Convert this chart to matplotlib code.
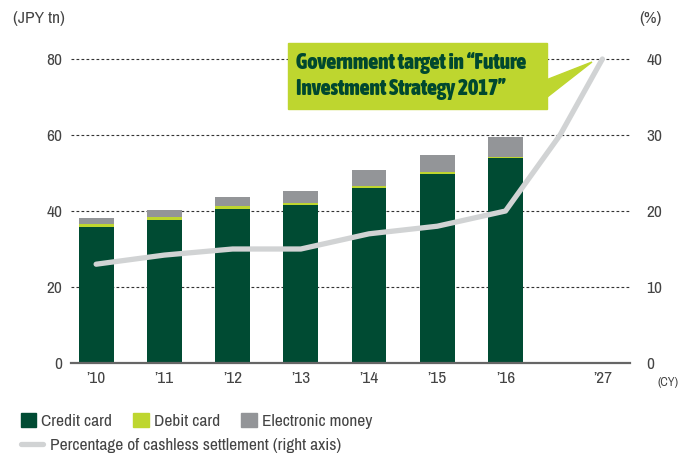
import numpy as np
import matplotlib
matplotlib.use('Agg')
import matplotlib.pyplot as plt
from matplotlib import font_manager
from matplotlib.font_manager import FontProperties
from matplotlib.patches import Patch, Polygon, Rectangle
from matplotlib.lines import Line2D

# look for a narrow sans face, the original uses a condensed font
narrow_fonts = [f for f in font_manager.fontManager.ttflist
                if 'Narrow' in f.name or 'Condensed' in f.name]
narrow = narrow_fonts[0].name if narrow_fonts else None
bold_file = None
for f in narrow_fonts:
    wt = f.weight if isinstance(f.weight, int) else (700 if 'bold' in str(f.weight) else 400)
    if wt >= 600 and f.style == 'normal':
        bold_file = f.fname
        break
fams = ([narrow] if narrow else []) + ['Liberation Sans', 'DejaVu Sans']
plt.rcParams['font.family'] = fams
if bold_file:
    bold_prop = FontProperties(fname=bold_file, size=15.5)
else:
    bold_prop = FontProperties(family=fams, weight='bold', size=14.5 if narrow else 12)

# data (JPY tn)
years = ['\u201910', '\u201911', '\u201912', '\u201913', '\u201914', '\u201915', '\u201916']
credit = [35.9, 37.7, 40.5, 41.6, 46.1, 49.8, 53.9]
debit = [0.7, 0.7, 0.8, 0.5, 0.5, 0.5, 0.3]
emoney = [1.6, 1.9, 2.4, 3.2, 4.2, 4.4, 5.3]

# percentage of cashless settlement (right axis)
line_x = [0, 1, 2, 3, 4, 5, 6, 6.8, 7.42]
line_pct = [13, 14.2, 15, 15, 17, 18, 20, 30, 40]
target_label = '\u201927'
target_x = 7.42

c_credit = '#004b33'
c_debit = '#bed62f'
c_emoney = '#939598'
c_line = '#d1d3d4'
c_text = '#444444'

fs = 12.5 if narrow else 12

fig = plt.figure(figsize=(6.95, 4.53), dpi=100)
ax = fig.add_axes([0.102, 0.1987, 0.804, 0.671])
ax2 = ax.twinx()

x = np.arange(len(years))
w = 0.51
b2 = np.array(credit) + np.array(debit)
ax.bar(x, credit, w, color=c_credit, zorder=2)
ax.bar(x, debit, w, bottom=credit, color=c_debit, zorder=2)
ax.bar(x, emoney, w, bottom=b2, color=c_emoney, zorder=2)

for yv in [20, 40, 60, 80]:
    ax.axhline(yv, color='#333333', lw=0.8, ls=(0, (2.5, 2)), zorder=1, clip_on=False)

ax2.plot(line_x, line_pct, color=c_line, lw=3.8, solid_capstyle='round',
         solid_joinstyle='round', zorder=3, clip_on=False)

ax.set_xlim(-0.37, 7.82)
ax.set_ylim(0, 80)
ax2.set_ylim(0, 40)
ax.set_yticks([0, 20, 40, 60, 80])
ax2.set_yticks([0, 10, 20, 30, 40])
ax.set_xticks(list(x) + [target_x])
ax.set_xticklabels(years + [target_label])

for a in (ax, ax2):
    for s in a.spines.values():
        s.set_visible(False)
    a.tick_params(length=0, labelsize=fs, colors=c_text)
ax.tick_params(axis='y', pad=6)
ax2.tick_params(axis='y', pad=12)
ax.tick_params(axis='x', pad=6)
ax.spines['bottom'].set_visible(True)
ax.spines['bottom'].set_color('#666666')
ax.spines['bottom'].set_linewidth(1.6)
ax.set_zorder(ax2.get_zorder() - 1)
ax.patch.set_visible(False)

fig.text(13 / 695, 1 - 18 / 453, '(JPY tn)', fontsize=fs, color=c_text, va='center')
fig.text(650 / 695, 1 - 18 / 453, '(%)', fontsize=fs, color=c_text, va='center', ha='center')
fig.text(657 / 695, 1 - 383 / 453, '(CY)', fontsize=9, color=c_text, va='center')

# callout box
W, H = 695.0, 453.0
box = Rectangle((288 / W, 1 - 109 / H), (547 - 288) / W, (109 - 43) / H,
                transform=fig.transFigure, color=c_debit, zorder=5)
fig.patches.append(box)
tri = Polygon([(546 / W, 1 - 80 / H), (592 / W, 1 - 62 / H), (546 / W, 1 - 98 / H)],
              closed=True, transform=fig.transFigure, color=c_debit, zorder=5)
fig.patches.append(tri)
fig.text(296 / W, 1 - 76 / H, 'Government target in \u201cFuture\nInvestment Strategy 2017\u201d',
         fontproperties=bold_prop, color='#00482f',
         va='center', ha='left', linespacing=1.2, zorder=6)

h1 = [Patch(color=c_credit, label='Credit card'),
      Patch(color=c_debit, label='Debit card'),
      Patch(color=c_emoney, label='Electronic money')]
leg1 = fig.legend(handles=h1, loc='center left', bbox_to_anchor=(5 / W, 1 - 421 / H),
                  ncol=3, frameon=False, fontsize=fs, handlelength=0.9, handleheight=0.9,
                  handletextpad=0.3, columnspacing=1.2, labelcolor=c_text)
h2 = [Line2D([0], [0], color=c_line, lw=3.8, solid_capstyle='round',
             label='Percentage of cashless settlement (right axis)')]
leg2 = fig.legend(handles=h2, loc='center left', bbox_to_anchor=(5 / W, 1 - 445 / H),
                  frameon=False, fontsize=fs, handlelength=1.3, handletextpad=0.4,
                  labelcolor=c_text)

fig.savefig('out.png', dpi=100)
